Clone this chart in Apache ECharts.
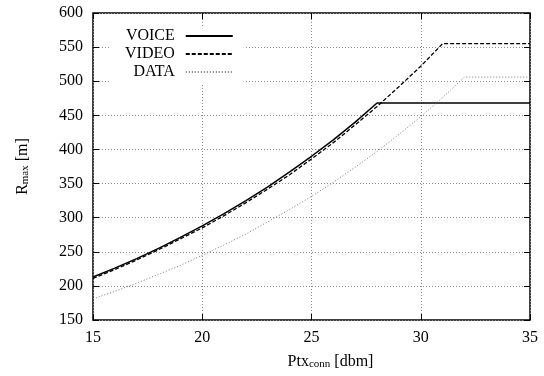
<!DOCTYPE html>
<html>
<head>
<meta charset="utf-8">
<script src="https://cdn.jsdelivr.net/npm/echarts@6/dist/echarts.min.js"></script>
<style>
  html, body { margin: 0; padding: 0; background: #fff; }
  #chart { width: 544px; height: 376px; }
</style>
</head>
<body>
<div id="chart"></div>
<script>
// Transmit power of the connection [dBm] and maximum range [m] per traffic class
const ptx = [15, 16, 17, 18, 19, 20, 21, 22, 23, 24, 25, 26, 27, 28, 29, 30, 31, 32, 35];
const voiceRange = [213, 226, 240, 255, 271, 288, 306, 325, 345, 367, 390, 414, 440, 468, 468, 468, 468, 468, 468];
const videoRange = [211, 224, 238, 253, 269, 285, 303, 322, 342, 363, 386, 410, 436, 463, 492, 522, 555, 555, 555];
const dataRange  = [181, 192, 204, 217, 230, 245, 260, 276, 294, 312, 331, 352, 374, 397, 422, 448, 476, 506, 506];
const seriesNames = ['VOICE', 'VIDEO', 'DATA'];

const xTicks = { min: 15, max: 35, step: 5 };
const yTicks = { min: 150, max: 600, step: 50 };

const FONT = '"Liberation Serif", "Times New Roman", serif';

function pairs(xs, ys) {
  return xs.map((x, i) => [x, ys[i]]);
}

const gridLine = { show: true, lineStyle: { color: '#8c8c8c', width: 1, type: [1, 2] } };
const innerTick = { show: true, inside: true, length: 6, lineStyle: { color: '#000', width: 1 } };

const chart = echarts.init(document.getElementById('chart'), null, { renderer: 'canvas' });

chart.setOption({
  animation: false,
  backgroundColor: '#fff',
  textStyle: { fontFamily: FONT, color: '#000' },
  grid: {
    left: 93, right: 14, top: 13, bottom: 56,
    show: true, borderColor: '#000', borderWidth: 1.5, backgroundColor: 'transparent'
  },
  legend: {
    orient: 'vertical',
    align: 'right',
    left: 110,
    top: 26,
    padding: [1, 10, 2, 15],
    itemWidth: 47,
    itemHeight: 12,
    itemGap: 0,
    backgroundColor: '#fff',
    itemStyle: { opacity: 0 },
    textStyle: { fontFamily: FONT, fontSize: 16, color: '#000', lineHeight: 18, padding: [0, 6, 0, 0] },
    data: seriesNames
  },
  xAxis: [{
    type: 'value',
    min: xTicks.min, max: xTicks.max, interval: xTicks.step,
    position: 'bottom',
    axisLine: { show: false },
    axisTick: innerTick,
    axisLabel: { fontFamily: FONT, fontSize: 16, color: '#000', margin: 10 },
    splitLine: gridLine,
    name: '{a|Ptx}{s|conn}{a| [dbm]}',
    nameLocation: 'middle',
    nameGap: 31,
    nameTextStyle: {
      padding: [0, 0, 0, 38],
      rich: {
        a: { fontFamily: FONT, fontSize: 16, color: '#000', lineHeight: 16, verticalAlign: 'top' },
        s: { fontFamily: FONT, fontSize: 11, color: '#000', lineHeight: 11, verticalAlign: 'bottom', padding: [8, 0, 0, 0] }
      }
    }
  }, {
    type: 'value',
    min: xTicks.min, max: xTicks.max, interval: xTicks.step,
    position: 'top',
    axisLine: { show: false },
    axisTick: innerTick,
    axisLabel: { show: false },
    splitLine: { show: false }
  }],
  yAxis: [{
    type: 'value',
    min: yTicks.min, max: yTicks.max, interval: yTicks.step,
    position: 'left',
    axisLine: { show: false },
    axisTick: innerTick,
    axisLabel: { fontFamily: FONT, fontSize: 16, color: '#000', margin: 10 },
    splitLine: gridLine,
    name: '{a|R}{s|max}{a| [m]}',
    nameLocation: 'middle',
    nameGap: 62,
    nameRotate: 90,
    nameTextStyle: {
      rich: {
        a: { fontFamily: FONT, fontSize: 16, color: '#000', lineHeight: 16, verticalAlign: 'top' },
        s: { fontFamily: FONT, fontSize: 11, color: '#000', lineHeight: 11, verticalAlign: 'bottom', padding: [8, 0, 0, 0] }
      }
    }
  }, {
    type: 'value',
    min: yTicks.min, max: yTicks.max, interval: yTicks.step,
    position: 'right',
    axisLine: { show: false },
    axisTick: innerTick,
    axisLabel: { show: false },
    splitLine: { show: false }
  }],
  series: [{
    name: seriesNames[0],
    type: 'line',
    data: pairs(ptx, voiceRange),
    symbol: 'none',
    lineStyle: { color: '#000', width: 1.5, type: 'solid' },
    itemStyle: { color: '#000' },
    z: 3
  }, {
    name: seriesNames[1],
    type: 'line',
    data: pairs(ptx, videoRange),
    symbol: 'none',
    lineStyle: { color: '#000', width: 1.3, type: [4, 2] },
    itemStyle: { color: '#000' },
    z: 3
  }, {
    name: seriesNames[2],
    type: 'line',
    data: pairs(ptx, dataRange),
    symbol: 'none',
    lineStyle: { color: '#777', width: 1, type: [1, 2] },
    itemStyle: { color: '#777' },
    z: 3
  }]
});
</script>
</body>
</html>
